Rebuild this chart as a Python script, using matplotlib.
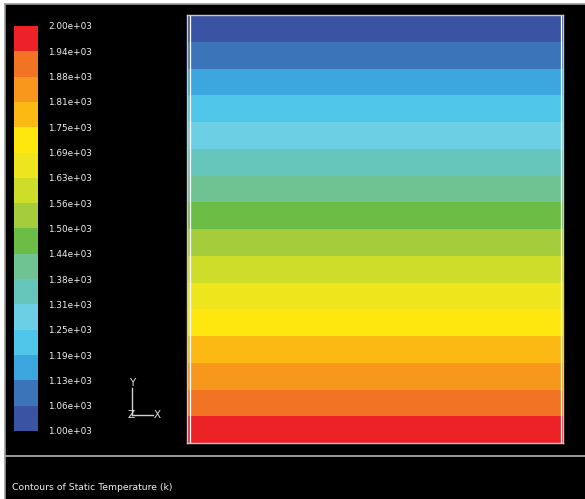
import numpy as np
import matplotlib
matplotlib.use('Agg')
import matplotlib.pyplot as plt
from matplotlib.lines import Line2D

# contour levels (K) and their legend labels, low -> high
levels = [1000, 1062.5, 1125, 1187.5, 1250, 1312.5, 1375, 1437.5, 1500,
          1562.5, 1625, 1687.5, 1750, 1812.5, 1875, 1937.5, 2000]
level_labels = ['1.00e+03', '1.06e+03', '1.13e+03', '1.19e+03', '1.25e+03',
                '1.31e+03', '1.38e+03', '1.44e+03', '1.50e+03', '1.56e+03',
                '1.63e+03', '1.69e+03', '1.75e+03', '1.81e+03', '1.88e+03',
                '1.94e+03', '2.00e+03']
band_colors = ['#3b53a3', '#3c74b9', '#3ca7de', '#4fc6ea', '#6dcfe3',
               '#66c6bc', '#6fc393', '#6bbd46', '#a4cc3b', '#cedc2a',
               '#efe51c', '#fee60f', '#fdb913', '#f7981d', '#f37324',
               '#ec2227']

# temperature on the domain: hot wall at the bottom, cold at the top
x_nodes = [0.0, 1.0]
y_nodes = [0.0, 1.0]
temp = [[2000.0, 2000.0],
        [1000.0, 1000.0]]

W, H = 585, 499
def box(x0, y0, x1, y1):
    return [x0 / W, 1 - y1 / H, (x1 - x0) / W, (y1 - y0) / H]
def fx(x): return x / W
def fy(y): return 1 - y / H

fig = plt.figure(figsize=(W / 100, H / 100), dpi=100, facecolor='white')

# black graphics window
bg = fig.add_axes(box(5, 4, W, H))
bg.set_facecolor('black')
bg.set_xticks([]); bg.set_yticks([])
for s in ('right', 'bottom'):
    bg.spines[s].set_visible(False)
for s in ('top', 'left'):
    bg.spines[s].set_color('#9a9a9a')
    bg.spines[s].set_linewidth(1.2)
fig.add_artist(Line2D([fx(5), 1], [fy(455.5), fy(455.5)], color='#a8a8a8', lw=1.3))

# contour plot
ax = fig.add_axes(box(187, 15, 563, 443))
cs = ax.contourf(x_nodes, y_nodes, temp, levels=levels, colors=band_colors)
ax.set_xlim(0, 1); ax.set_ylim(0, 1)
ax.set_xticks([]); ax.set_yticks([])
for s in ax.spines.values():
    s.set_color('#c8c8c8')
    s.set_linewidth(1.0)
for xv in (3 / 376, 1 - 2.5 / 376):
    ax.axvline(xv, color='white', lw=0.9)

# colour legend
cax = fig.add_axes(box(14, 26, 38, 431))
cb = fig.colorbar(cs, cax=cax, ticks=levels)
cb.outline.set_visible(False)
cax.set_yticklabels(level_labels)
cax.tick_params(axis='y', length=0, colors='#f0f0f0', labelsize=6.4, pad=7.5)

# axis triad
fig.add_artist(Line2D([fx(132), fx(132)], [fy(388), fy(415)], color='#d0d0d0', lw=1))
fig.add_artist(Line2D([fx(132), fx(153)], [fy(415), fy(415)], color='#d0d0d0', lw=1))
tri = dict(color='#e0e0e0', fontsize=7.5, ha='center', va='center')
fig.text(fx(132), fy(383), 'Y', **tri)
fig.text(fx(157.5), fy(415), 'X', **tri)
fig.text(fx(131), fy(415), 'Z', **tri)

fig.text(fx(12), fy(487), 'Contours of Static Temperature (k)',
         color='#f0f0f0', fontsize=6.7, ha='left', va='center')

fig.savefig('out.png', dpi=100, facecolor='white')
